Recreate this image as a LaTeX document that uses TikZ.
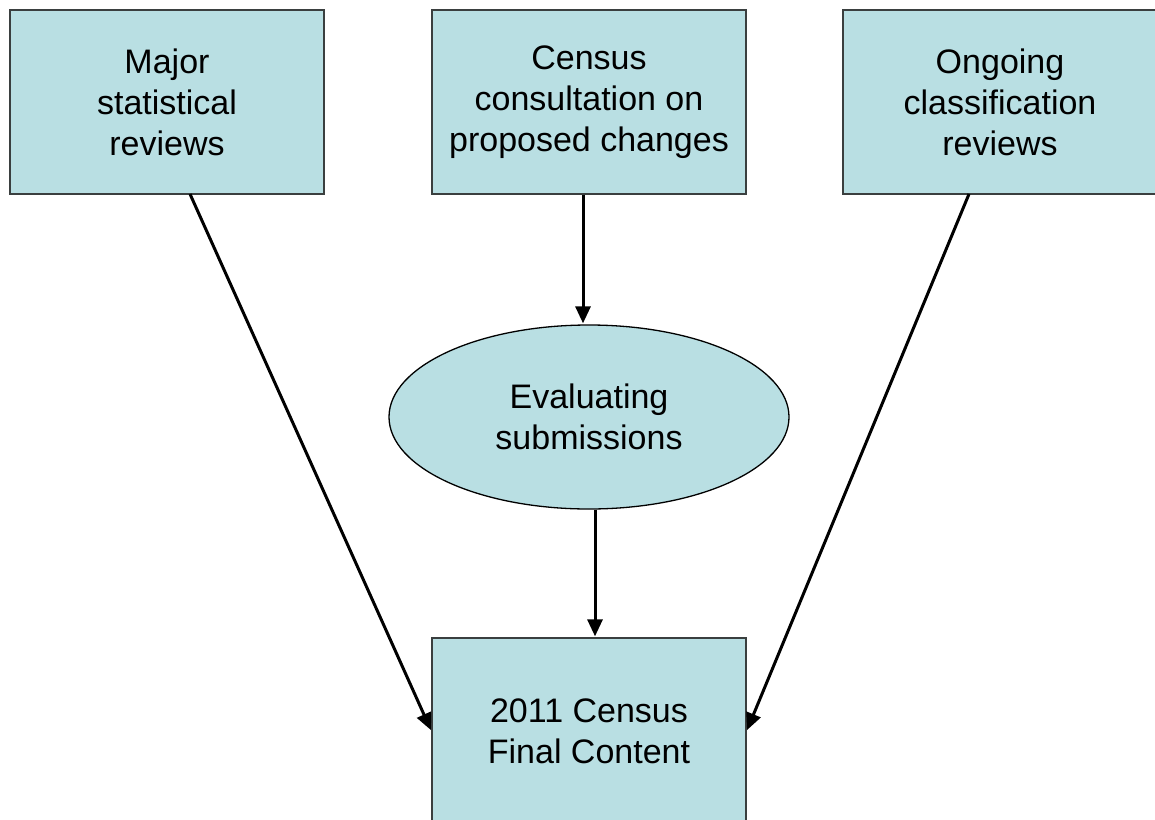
\documentclass[tikz,border=0pt]{standalone}
\usepackage{fontspec}
\setmainfont{Liberation Sans}
\usetikzlibrary{shapes.geometric,arrows.meta}
\definecolor{boxfill}{HTML}{B9DFE3}
\definecolor{boxline}{HTML}{3A3F3F}
\begin{document}
\begin{tikzpicture}[x=1pt,y=-1pt,
  card/.style={draw=boxline,line width=1.3pt,fill=boxfill,rectangle,minimum width=314pt,minimum height=184pt,align=center,font=\fontsize{34}{41}\selectfont,inner sep=0pt},
  oval/.style={draw=black,line width=1.3pt,fill=boxfill,ellipse,minimum width=400pt,minimum height=184pt,align=center,font=\fontsize{34}{41}\selectfont,inner sep=0pt},
  arr/.style={-{Triangle[length=17pt,width=15pt]},line width=3pt,shorten >=1pt}]
\useasboundingbox (0,0) rectangle (1155,819);
\begin{scope}
\clip (0,0) rectangle (1155,819);
\node[card] (a) at (167,102) {Major\\statistical\\reviews};
\node[card] (b) at (589,102) {Census\\consultation on\\proposed changes};
\node[card] (c) at (1000,102) {Ongoing\\classification\\reviews};
\node[oval] (e) at (589,417) {Evaluating\\submissions};
\node[card,minimum height=186pt] (f) at (589,731) {2011 Census\\Final Content};
\coordinate (a1) at (190,194);
\coordinate (c1) at (969,194);
\draw[arr] (a1) -- (f.west);
\draw[arr] (c1) -- (f.east);
\draw[arr] (b.south -| 583,0) -- (e.north -| 583,0);
\draw[arr] (e.south -| 595,0) -- (f.north -| 595,0);
\end{scope}
\end{tikzpicture}
\end{document}
